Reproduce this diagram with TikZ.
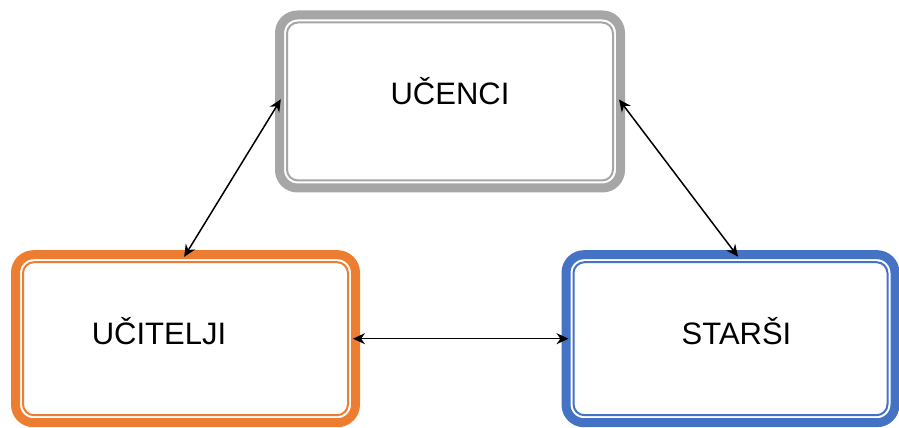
\documentclass[tikz,border=0pt]{standalone}
\usepackage{fontspec}
\setmainfont{Liberation Sans}
\usetikzlibrary{arrows.meta}

\definecolor{ucengray}{HTML}{A6A6A6}
\definecolor{ucitorange}{HTML}{ED7D31}
\definecolor{starblue}{HTML}{4472C4}

\tikzset{
  grp/.style={draw=#1, line width=9pt, rounded corners=18pt, outer sep=0pt,
    inner sep=0pt, fill=white},
  grpin/.style={draw=#1, line width=2pt, rounded corners=11pt},
  lbl/.style={anchor=base, inner sep=0pt, font=\fontsize{31}{37}\selectfont}
}

\begin{document}
\begin{tikzpicture}[x=1pt,y=1pt]
			\useasboundingbox (0,0) rectangle (899,428);
			\node (ucen) [grp=ucengray, minimum width=341pt, minimum height=173pt] at (450,326.5) {};
			\node (ucit) [grp=ucitorange, minimum width=340pt, minimum height=168pt] at (185.5,89.3) {};
			\node (star) [grp=starblue, minimum width=329pt, minimum height=168pt] at (730.5,89.3) {};
			\draw[grpin=ucengray] ([shift={(7.5,7.5)}]ucen.south west) rectangle ([shift={(-7.5,-7.5)}]ucen.north east);
			\draw[grpin=ucitorange] ([shift={(7.5,7.5)}]ucit.south west) rectangle ([shift={(-7.5,-7.5)}]ucit.north east);
			\draw[grpin=starblue] ([shift={(7.5,7.5)}]star.south west) rectangle ([shift={(-7.5,-7.5)}]star.north east);
			\node (ucent) [lbl] at (450,323) {UČENCI};
			\node (ucitt) [lbl] at (159,83) {UČITELJI};
			\node (start) [lbl] at (736.5,83) {STARŠI};
			\path[{Stealth[length=12pt,width=11pt]}-{Stealth[length=12pt,width=11pt]}, line width=1.5pt,
			shorten <=-2.5pt, shorten >=-2.5pt]
			(ucit.north) edge (ucen.west)
			(ucen.east) edge ([xshift=6pt]star.north)
			(ucit.east) edge (star.west);
		\end{tikzpicture}
\end{document}
